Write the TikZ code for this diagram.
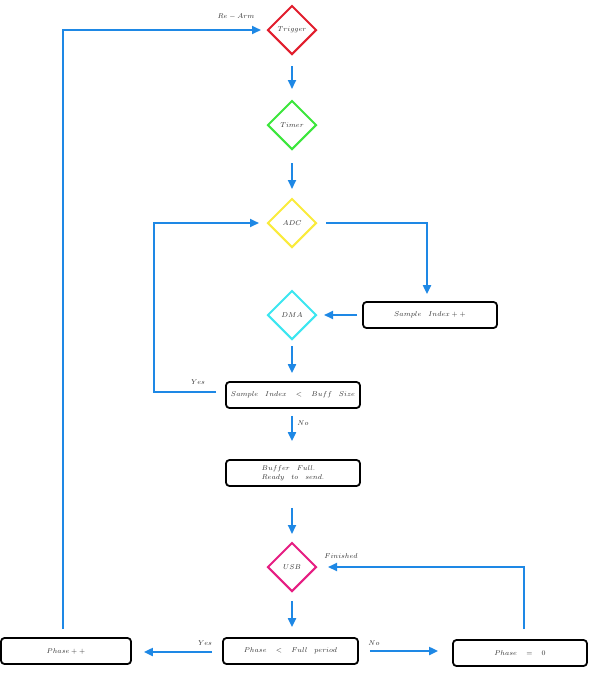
\documentclass[tikz,border=0pt]{standalone}
\usetikzlibrary{shapes.geometric,arrows.meta}
\definecolor{lineblue}{RGB}{30,136,229}
\definecolor{cred}{RGB}{225,30,45}
\definecolor{cgreen}{RGB}{60,230,60}
\definecolor{cyellow}{RGB}{250,235,60}
\definecolor{ccyan}{RGB}{60,230,240}
\definecolor{cpink}{RGB}{230,30,130}
\definecolor{tgray}{RGB}{50,50,50}
\tikzset{
  txt/.style={text=tgray, font=\fontsize{7}{9}\selectfont},
  dia/.style={diamond, draw, line width=2pt, minimum width=49pt, minimum height=49pt, inner sep=0pt, txt},
  stepbox/.style={draw=black, rounded corners=3.5pt, line width=1.8pt, minimum width=134pt, minimum height=26pt, inner sep=0pt, txt},
  arr/.style={draw=lineblue, line width=2pt, -{Triangle[length=9pt,width=8pt]}},
  lbl/.style={txt, inner sep=0pt}
}
\begin{document}
\begin{tikzpicture}[x=1pt,y=-1pt]
\useasboundingbox (0,0) rectangle (594,681);
% diamonds
\node[dia, draw=cred] (trig) at (292,30) {$Trigger$};
\node[dia, draw=cgreen] (timer) at (292,125) {$Timer$};
\node[dia, draw=cyellow] (adc) at (292,223) {$ADC$};
\node[dia, draw=ccyan] (dma) at (292,315) {$DMA$};
\node[dia, draw=cpink] (usb) at (292,567) {$USB$};
% boxes
\node[stepbox] (sip) at (430,315) {$Sample\quad Index++$};
\node[stepbox] (cond1) at (293,395) {$Sample\quad Index\quad <\quad Buff\quad Size$};
\node[stepbox, align=left] (buf) at (293,473) {$Buffer\quad Full.$\\$Ready\quad to\quad send.$};
\node[stepbox, minimum width=135pt] (cond2) at (290.5,651) {$Phase\quad <\quad Full\quad period$};
\node[stepbox, minimum width=130pt] (phinc) at (66,651) {$Phase++$};
\node[stepbox] (phz) at (520,653) {$Phase\quad =\quad 0$};
% corner coordinate
\coordinate (ycorner) at (154,223);
% connectors
\draw[arr, shorten <=10.5pt, shorten >=10.5pt] (trig.south) -- (timer.north);
\draw[arr, shorten <=12.5pt, shorten >=8.5pt] (timer.south) -- (adc.north);
\draw[arr, shorten <=8.5pt, shorten >=7pt] (adc.east) -| ([xshift=-3pt]sip.north);
\draw[arr, shorten <=5pt, shorten >=6.5pt] (sip.west) -- (dma.east);
\draw[arr, shorten <=5.5pt, shorten >=8pt] (dma.south) -- (dma.south |- cond1.north);
\draw[arr, shorten <=9pt, shorten >=7.5pt] ([yshift=3pt]cond1.west) -| (ycorner) -- (adc.west);
\draw[arr, shorten <=7pt, shorten >=18pt] (cond1.south -| dma.south) -- (dma.south |- buf.north);
\draw[arr, shorten <=21pt, shorten >=7.5pt] (buf.south -| usb.south) -- (usb.north);
\draw[arr, shorten <=8.5pt, shorten >=10pt] (usb.south) -- (usb.south |- cond2.north);
\draw[arr, shorten <=10pt, shorten >=12pt] ([yshift=-1pt]cond2.west) -- ([yshift=-1pt]phinc.east);
\draw[arr, shorten <=11pt, shorten >=14pt] (cond2.east) -- (cond2.east -| phz.west);
\draw[arr, shorten <=8pt, shorten >=5.5pt] ([xshift=-3pt]phinc.north) |- (trig.west);
\draw[arr, shorten <=10pt, shorten >=10.5pt] ([xshift=3.5pt]phz.north) |- (usb.east);
% labels
\node[lbl] (lrearm) at (236,17) {$Re-Arm$};
\node[lbl] (lyes1) at (198,382) {$Yes$};
\node[lbl] (lno1) at (303,423) {$No$};
\node[lbl] (lfin) at (341,556) {$Finished$};
\node[lbl] (lyes2) at (205,643) {$Yes$};
\node[lbl] (lno2) at (374,643) {$No$};
\end{tikzpicture}
\end{document}
